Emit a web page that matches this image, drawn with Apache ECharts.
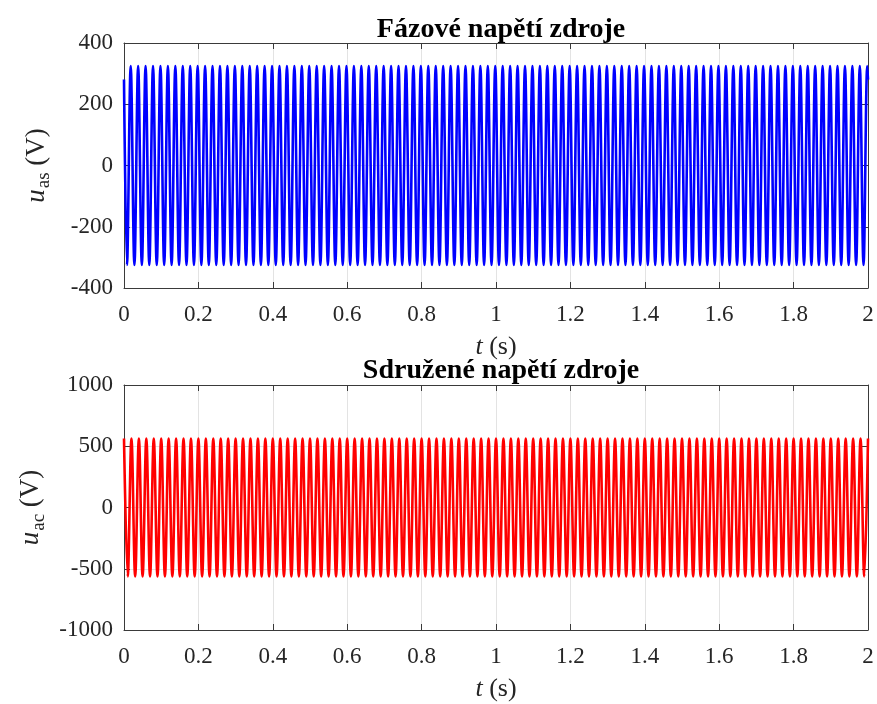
<!DOCTYPE html>
<html>
<head>
<meta charset="utf-8">
<script src="https://cdn.jsdelivr.net/npm/echarts@6/dist/echarts.min.js"></script>
<style>html,body{margin:0;padding:0;background:#fff;}#c{width:877px;height:704px;}</style>
</head>
<body>
<div id="c"></div>
<script>
// Time instants (s) of the extremes of the phase voltage u_as
const blueTimes = [0,
0.008,0.018,0.028,0.038,0.048,0.058,0.068,0.078,0.088,0.098,
0.108,0.118,0.128,0.138,0.148,0.158,0.168,0.178,0.188,0.198,
0.208,0.218,0.228,0.238,0.248,0.258,0.268,0.278,0.288,0.298,
0.308,0.318,0.328,0.338,0.348,0.358,0.368,0.378,0.388,0.398,
0.408,0.418,0.428,0.438,0.448,0.458,0.468,0.478,0.488,0.498,
0.508,0.518,0.528,0.538,0.548,0.558,0.568,0.578,0.588,0.598,
0.608,0.618,0.628,0.638,0.648,0.658,0.668,0.678,0.688,0.698,
0.708,0.718,0.728,0.738,0.748,0.758,0.768,0.778,0.788,0.798,
0.808,0.818,0.828,0.838,0.848,0.858,0.868,0.878,0.888,0.898,
0.908,0.918,0.928,0.938,0.948,0.958,0.968,0.978,0.988,0.998,
1.008,1.018,1.028,1.038,1.048,1.058,1.068,1.078,1.088,1.098,
1.108,1.118,1.128,1.138,1.148,1.158,1.168,1.178,1.188,1.198,
1.208,1.218,1.228,1.238,1.248,1.258,1.268,1.278,1.288,1.298,
1.308,1.318,1.328,1.338,1.348,1.358,1.368,1.378,1.388,1.398,
1.408,1.418,1.428,1.438,1.448,1.458,1.468,1.478,1.488,1.498,
1.508,1.518,1.528,1.538,1.548,1.558,1.568,1.578,1.588,1.598,
1.608,1.618,1.628,1.638,1.648,1.658,1.668,1.678,1.688,1.698,
1.708,1.718,1.728,1.738,1.748,1.758,1.768,1.778,1.788,1.798,
1.808,1.818,1.828,1.838,1.848,1.858,1.868,1.878,1.888,1.898,
1.908,1.918,1.928,1.938,1.948,1.958,1.968,1.978,1.988,1.998,
2];
// u_as values (V) at those instants
const blueValues = [281,
-325,325,-325,325,-325,325,-325,325,-325,325,
-325,325,-325,325,-325,325,-325,325,-325,325,
-325,325,-325,325,-325,325,-325,325,-325,325,
-325,325,-325,325,-325,325,-325,325,-325,325,
-325,325,-325,325,-325,325,-325,325,-325,325,
-325,325,-325,325,-325,325,-325,325,-325,325,
-325,325,-325,325,-325,325,-325,325,-325,325,
-325,325,-325,325,-325,325,-325,325,-325,325,
-325,325,-325,325,-325,325,-325,325,-325,325,
-325,325,-325,325,-325,325,-325,325,-325,325,
-325,325,-325,325,-325,325,-325,325,-325,325,
-325,325,-325,325,-325,325,-325,325,-325,325,
-325,325,-325,325,-325,325,-325,325,-325,325,
-325,325,-325,325,-325,325,-325,325,-325,325,
-325,325,-325,325,-325,325,-325,325,-325,325,
-325,325,-325,325,-325,325,-325,325,-325,325,
-325,325,-325,325,-325,325,-325,325,-325,325,
-325,325,-325,325,-325,325,-325,325,-325,325,
-325,325,-325,325,-325,325,-325,325,-325,325,
-325,325,-325,325,-325,325,-325,325,-325,325,
281];
// Time instants (s) of the extremes of the line voltage u_ac
const redTimes = [
0,0.01,0.02,0.03,0.04,0.05,0.06,0.07,0.08,0.09,
0.10,0.11,0.12,0.13,0.14,0.15,0.16,0.17,0.18,0.19,
0.20,0.21,0.22,0.23,0.24,0.25,0.26,0.27,0.28,0.29,
0.30,0.31,0.32,0.33,0.34,0.35,0.36,0.37,0.38,0.39,
0.40,0.41,0.42,0.43,0.44,0.45,0.46,0.47,0.48,0.49,
0.50,0.51,0.52,0.53,0.54,0.55,0.56,0.57,0.58,0.59,
0.60,0.61,0.62,0.63,0.64,0.65,0.66,0.67,0.68,0.69,
0.70,0.71,0.72,0.73,0.74,0.75,0.76,0.77,0.78,0.79,
0.80,0.81,0.82,0.83,0.84,0.85,0.86,0.87,0.88,0.89,
0.90,0.91,0.92,0.93,0.94,0.95,0.96,0.97,0.98,0.99,
1.00,1.01,1.02,1.03,1.04,1.05,1.06,1.07,1.08,1.09,
1.10,1.11,1.12,1.13,1.14,1.15,1.16,1.17,1.18,1.19,
1.20,1.21,1.22,1.23,1.24,1.25,1.26,1.27,1.28,1.29,
1.30,1.31,1.32,1.33,1.34,1.35,1.36,1.37,1.38,1.39,
1.40,1.41,1.42,1.43,1.44,1.45,1.46,1.47,1.48,1.49,
1.50,1.51,1.52,1.53,1.54,1.55,1.56,1.57,1.58,1.59,
1.60,1.61,1.62,1.63,1.64,1.65,1.66,1.67,1.68,1.69,
1.70,1.71,1.72,1.73,1.74,1.75,1.76,1.77,1.78,1.79,
1.80,1.81,1.82,1.83,1.84,1.85,1.86,1.87,1.88,1.89,
1.90,1.91,1.92,1.93,1.94,1.95,1.96,1.97,1.98,1.99,
2];
// u_ac values (V) at those instants
const redValues = [
563,-563,563,-563,563,-563,563,-563,563,-563,
563,-563,563,-563,563,-563,563,-563,563,-563,
563,-563,563,-563,563,-563,563,-563,563,-563,
563,-563,563,-563,563,-563,563,-563,563,-563,
563,-563,563,-563,563,-563,563,-563,563,-563,
563,-563,563,-563,563,-563,563,-563,563,-563,
563,-563,563,-563,563,-563,563,-563,563,-563,
563,-563,563,-563,563,-563,563,-563,563,-563,
563,-563,563,-563,563,-563,563,-563,563,-563,
563,-563,563,-563,563,-563,563,-563,563,-563,
563,-563,563,-563,563,-563,563,-563,563,-563,
563,-563,563,-563,563,-563,563,-563,563,-563,
563,-563,563,-563,563,-563,563,-563,563,-563,
563,-563,563,-563,563,-563,563,-563,563,-563,
563,-563,563,-563,563,-563,563,-563,563,-563,
563,-563,563,-563,563,-563,563,-563,563,-563,
563,-563,563,-563,563,-563,563,-563,563,-563,
563,-563,563,-563,563,-563,563,-563,563,-563,
563,-563,563,-563,563,-563,563,-563,563,-563,
563,-563,563,-563,563,-563,563,-563,563,-563,
563];

const titles = ['Fázové napětí zdroje', 'Sdružené napětí zdroje'];
const xTicks = {min: 0, max: 2, interval: 0.2};
const yTicksTop = {min: -400, max: 400, interval: 200};
const yTicksBottom = {min: -1000, max: 1000, interval: 500};

const FONT = "'Liberation Serif','Times New Roman',serif";
const AX = '#3a3a3a';
const TXT = '#262626';
const GRIDC = '#e3e3e3';

const chart = echarts.init(document.getElementById('c'), null, {renderer: 'canvas'});

function xAxisMain(gi) {
  return {
    type: 'value', gridIndex: gi, min: xTicks.min, max: xTicks.max, interval: xTicks.interval,
    position: 'bottom',
    name: '{i|t} (s)', nameLocation: 'middle', nameGap: 46,
    nameTextStyle: {fontFamily: FONT, fontSize: 26, color: TXT, rich: {i: {fontStyle: 'italic', fontFamily: FONT, fontSize: 26, color: TXT}}},
    axisLine: {show: true, onZero: false, lineStyle: {color: AX, width: 1}},
    axisTick: {show: true, inside: true, length: 6, lineStyle: {color: AX}},
    axisLabel: {fontFamily: FONT, fontSize: 23, color: TXT, margin: 15, formatter: v => String(+v.toFixed(1))},
    splitLine: {show: true, lineStyle: {color: GRIDC, width: 1}}
  };
}
function xAxisTop(gi) {
  return {
    type: 'value', gridIndex: gi, min: xTicks.min, max: xTicks.max, interval: xTicks.interval,
    position: 'top',
    axisLine: {show: true, onZero: false, lineStyle: {color: AX, width: 1}},
    axisTick: {show: true, inside: true, length: 6, lineStyle: {color: AX}},
    axisLabel: {show: false}, splitLine: {show: false}
  };
}
function yAxisMain(gi, t, sub) {
  return {
    type: 'value', gridIndex: gi, min: t.min, max: t.max, interval: t.interval,
    position: 'left',
    name: '{u|u}{s|' + sub + '}{n| (V)}', nameLocation: 'middle', nameGap: 70, nameRotate: 90,
    nameTextStyle: {fontFamily: FONT, color: TXT, rich: {
      u: {fontStyle: 'italic', fontFamily: FONT, fontSize: 27, color: TXT},
      s: {fontFamily: FONT, fontSize: 19, color: TXT, verticalAlign: 'top', padding: [16, 0, 0, 1]},
      n: {fontFamily: FONT, fontSize: 27, color: TXT}
    }},
    axisLine: {show: true, onZero: false, lineStyle: {color: AX, width: 1}},
    axisTick: {show: true, inside: true, length: 6, lineStyle: {color: AX}},
    axisLabel: {fontFamily: FONT, fontSize: 23, color: TXT, margin: 11, formatter: v => String(v)},
    splitLine: {show: true, lineStyle: {color: GRIDC, width: 1}}
  };
}
function yAxisRight(gi, t) {
  return {
    type: 'value', gridIndex: gi, min: t.min, max: t.max, interval: t.interval,
    position: 'right',
    axisLine: {show: true, onZero: false, lineStyle: {color: AX, width: 1}},
    axisTick: {show: true, inside: true, length: 6, lineStyle: {color: AX}},
    axisLabel: {show: false}, splitLine: {show: false}
  };
}

function zip(ts, vs) { return ts.map((t, i) => [t, vs[i]]); }

const option = {
  animation: false,
  backgroundColor: '#ffffff',
  title: [
    {text: titles[0], left: 496, top: 11, textAlign: 'center',
     textStyle: {fontFamily: FONT, fontWeight: 'bold', fontSize: 28, color: '#000'}},
    {text: titles[1], left: 496, top: 352, textAlign: 'center',
     textStyle: {fontFamily: FONT, fontWeight: 'bold', fontSize: 28, color: '#000'}}
  ],
  grid: [
    {left: 124, right: 9, top: 43, height: 245},
    {left: 124, right: 9, top: 385, height: 245}
  ],
  xAxis: [xAxisMain(0), xAxisTop(0), xAxisMain(1), xAxisTop(1)],
  yAxis: [yAxisMain(0, yTicksTop, 'as'), yAxisRight(0, yTicksTop), yAxisMain(1, yTicksBottom, 'ac'), yAxisRight(1, yTicksBottom)],
  series: [
    {type: 'line', xAxisIndex: 0, yAxisIndex: 0, data: zip(blueTimes, blueValues),
     showSymbol: false, symbol: 'none', sampling: null, smooth: 0.36,
     lineStyle: {color: '#0000ff', width: 2.6}, z: 3},
    {type: 'line', xAxisIndex: 2, yAxisIndex: 2, data: zip(redTimes, redValues),
     showSymbol: false, symbol: 'none', sampling: null, smooth: 0.36,
     lineStyle: {color: '#ff0000', width: 2.6}, z: 3}
  ]
};
chart.setOption(option);
</script>
</body>
</html>
